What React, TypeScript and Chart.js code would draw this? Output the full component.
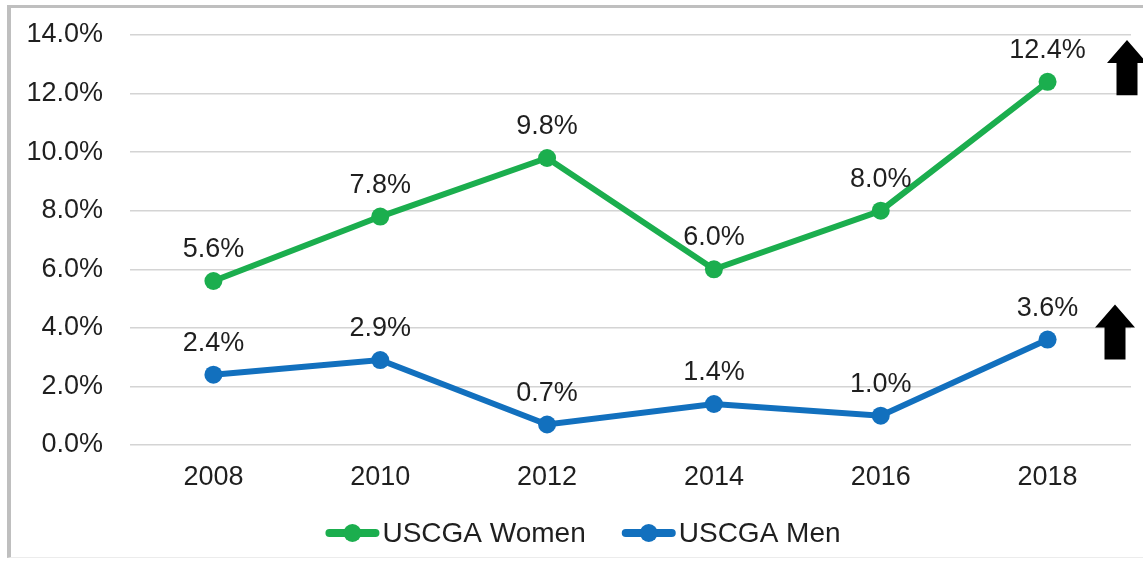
import React, { useEffect, useRef } from "react";
import { Chart, registerables } from "chart.js";

Chart.register(...registerables);

const years = ["2008", "2010", "2012", "2014", "2016", "2018"];
const womenValues = [5.6, 7.8, 9.8, 6.0, 8.0, 12.4];
const menValues = [2.4, 2.9, 0.7, 1.4, 1.0, 3.6];
const seriesNames = ["USCGA Women", "USCGA Men"];
const seriesColors = ["#1BAE4E", "#1270BE"];
// up-arrow annotations: [top value, bottom value, x offset from chart area right]
const arrowTops = [13.83, 4.8];
const arrowBottoms = [11.94, 2.92];
const arrowOffsets = [-4, -16];

const FONT = "'Liberation Sans', Arial, sans-serif";
const TEXT = "#1f1f1f";

const labelsPlugin = {
  id: "valueLabels",
  afterDatasetsDraw(chart: any) {
    const ctx = chart.ctx;
    ctx.save();
    ctx.font = `27px ${FONT}`;
    ctx.fillStyle = TEXT;
    ctx.textAlign = "center";
    ctx.textBaseline = "alphabetic";
    chart.data.datasets.forEach((ds: any, i: number) => {
      const meta = chart.getDatasetMeta(i);
      meta.data.forEach((pt: any, j: number) => {
        ctx.fillText(Number(ds.data[j]).toFixed(1) + "%", pt.x, pt.y - 24);
      });
    });
    ctx.restore();
  },
};

const arrowsPlugin = {
  id: "arrows",
  afterDraw(chart: any) {
    const ctx = chart.ctx;
    const y = chart.scales.y;
    ctx.save();
    ctx.fillStyle = "#000";
    arrowTops.forEach((t, i) => {
      const top = y.getPixelForValue(t);
      const bottom = y.getPixelForValue(arrowBottoms[i]);
      const cx = chart.chartArea.right + arrowOffsets[i];
      const headH = 23;
      const headW = 20;
      const shaftW = 10.5;
      ctx.beginPath();
      ctx.moveTo(cx, top);
      ctx.lineTo(cx + headW, top + headH);
      ctx.lineTo(cx + shaftW, top + headH);
      ctx.lineTo(cx + shaftW, bottom);
      ctx.lineTo(cx - shaftW, bottom);
      ctx.lineTo(cx - shaftW, top + headH);
      ctx.lineTo(cx - headW, top + headH);
      ctx.closePath();
      ctx.fill();
    });
    ctx.restore();
  },
};

const legendPlugin = {
  id: "customLegend",
  afterDraw(chart: any) {
    const ctx = chart.ctx;
    ctx.save();
    ctx.font = `28px ${FONT}`;
    const lineW = 52;
    const gapText = 4;
    const gapItems = 37;
    const widths = seriesNames.map((n) => lineW + gapText + ctx.measureText(n).width);
    const total = widths.reduce((a, b) => a + b, 0) + gapItems * (widths.length - 1);
    let x = chart.width / 2 + 12 - total / 2;
    const cy = 533;
    seriesNames.forEach((name, i) => {
      ctx.strokeStyle = seriesColors[i];
      ctx.fillStyle = seriesColors[i];
      ctx.lineWidth = 8;
      ctx.lineCap = "round";
      ctx.beginPath();
      ctx.moveTo(x + 3, cy);
      ctx.lineTo(x + lineW - 3, cy);
      ctx.stroke();
      ctx.beginPath();
      ctx.arc(x + lineW / 2, cy, 9, 0, Math.PI * 2);
      ctx.fill();
      ctx.fillStyle = TEXT;
      ctx.textAlign = "left";
      ctx.textBaseline = "middle";
      ctx.fillText(name, x + lineW + gapText, cy + 1);
      x += widths[i] + gapItems;
    });
    ctx.restore();
  },
};

export default function App() {
  const ref = useRef<HTMLCanvasElement>(null);
  useEffect(() => {
    if (!ref.current) return;
    const chart = new Chart(ref.current, {
      type: "line",
      data: {
        labels: years,
        datasets: [
          {
            label: seriesNames[0],
            data: womenValues,
            borderColor: seriesColors[0],
            backgroundColor: seriesColors[0],
            borderWidth: 6,
            pointRadius: 9,
            pointHoverRadius: 9,
            pointBorderWidth: 0,
            tension: 0,
          },
          {
            label: seriesNames[1],
            data: menValues,
            borderColor: seriesColors[1],
            backgroundColor: seriesColors[1],
            borderWidth: 6,
            pointRadius: 9,
            pointHoverRadius: 9,
            pointBorderWidth: 0,
            tension: 0,
          },
        ],
      },
      options: {
        responsive: false,
        animation: false,
        devicePixelRatio: 1,
        layout: { padding: { top: 35, right: 12, left: 0, bottom: 0 } },
        plugins: {
          legend: { display: false },
          tooltip: { enabled: false },
        },
        scales: {
          x: {
            offset: true,
            grid: { display: false, drawTicks: false },
            border: { display: false },
            ticks: {
              color: TEXT,
              font: { family: FONT, size: 27 },
              padding: 16,
              maxRotation: 0,
            },
            afterFit(scale: any) {
              scale.height = 119;
            },
          },
          y: {
            min: 0,
            max: 14,
            grid: {
              color: "#d4d4d4",
              lineWidth: 1.5,
              drawTicks: true,
              tickLength: 27,
              tickColor: "rgba(0,0,0,0)",
            },
            border: { display: false },
            ticks: {
              stepSize: 2,
              color: TEXT,
              font: { family: FONT, size: 27 },
              padding: 0,
              callback: (v: any) => Number(v).toFixed(1) + "%",
            },
            afterFit(scale: any) {
              scale.width = 130;
            },
          },
        },
      },
      plugins: [labelsPlugin, arrowsPlugin, legendPlugin],
    });
    return () => chart.destroy();
  }, []);
  return (
    <div style={{ position: "fixed", left: 0, top: 0, width: 1143, height: 564, background: "#fff", overflow: "hidden" }}>
      <div
        style={{
          position: "absolute",
          left: 7,
          top: 5,
          width: 1150,
          height: 553,
          borderTop: "3px solid #bfbfbf",
          borderLeft: "4px solid #bfbfbf",
          borderBottom: "1px solid #ececec",
          boxSizing: "border-box",
        }}
      />
      <canvas ref={ref} width={1143} height={564} style={{ position: "absolute", left: 0, top: 0 }} />
    </div>
  );
}
